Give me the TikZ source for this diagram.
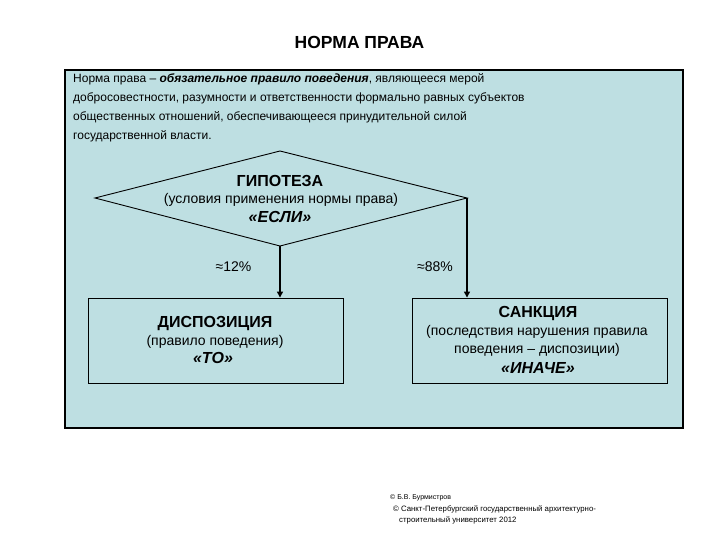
\documentclass[tikz,border=0pt]{standalone}
\usepackage{fontspec}
\setmainfont{Liberation Sans}
\usetikzlibrary{arrows.meta}
\definecolor{panel}{RGB}{190,223,226}
\tikzset{
  body/.style={anchor=west, inner sep=0pt, font=\fontsize{12}{14}\selectfont},
  ctext/.style={inner sep=0pt, font=\fontsize{14}{16}\selectfont},
  head/.style={inner sep=0pt, font=\fontsize{16}{18}\selectfont\bfseries},
  quote/.style={inner sep=0pt, font=\fontsize{16}{18}\selectfont\bfseries\itshape},
  flow/.style={draw=black, line width=1.3pt, -{Triangle[length=6pt,width=6pt]}},
  boxed/.style={draw=black, line width=0.9pt},
  small/.style={anchor=west, inner sep=0pt, font=\fontsize{7.8}{9}\selectfont}
}
\begin{document}
\begin{tikzpicture}[x=1pt,y=-1pt]
\path[use as bounding box, fill=white] (0,0) rectangle (720,540);
\node[inner sep=0pt, font=\fontsize{17.5}{19}\selectfont\bfseries] (title) at (359.5,42) {НОРМА ПРАВА};
\draw[fill=panel, draw=black, line width=1.3pt] (65,70) rectangle (683,428);
\node[body] (l1) at (73,79) {Норма права -- \textbf{\textit{обязательное правило поведения}}, являющееся мерой};
\node[body] (l2) at (73,98) {добросовестности, разумности и ответственности формально равных субъектов};
\node[body] (l3) at (73,117) {общественных отношений, обеспечивающееся принудительной силой};
\node[body] (l4) at (73,136) {государственной власти.};
% diamond
\coordinate (dt) at (280,151);
\coordinate (dl) at (95,198);
\coordinate (dr) at (467,198);
\coordinate (db) at (280,246);
\draw[boxed] (dt) -- (dr) -- (db) -- (dl) -- cycle;
\node[head] (h1) at (280,181) {ГИПОТЕЗА};
\node[ctext] (h2) at (281,200) {(условия применения нормы права)};
\node[quote] (h3) at (280,217) {«ЕСЛИ»};
% boxes
\node[boxed, minimum width=255pt, minimum height=85pt, inner sep=0pt] (disp) at (215.5,340.5) {};
\node[boxed, minimum width=255pt, minimum height=85pt, inner sep=0pt] (sanc) at (539.5,340.5) {};
\node[head] (d1) at (215,324) {ДИСПОЗИЦИЯ};
\node[ctext] (d2) at (215,342) {(правило поведения)};
\node[quote] (d3) at (213,358) {«ТО»};
\node[head] (s1) at (538,314) {САНКЦИЯ};
\node[ctext] (s2) at (537,332) {(последствия нарушения правила};
\node[ctext] (s3) at (537,350) {поведения -- диспозиции)};
\node[quote] (s4) at (538,368) {«ИНАЧЕ»};
% arrows
\draw[flow] (db) -- (disp.north -| db);
\draw[flow] (dr) -- (sanc.north -| dr);
\node[ctext] (p1) at (233.5,267) {≈12\%};
\node[ctext] (p2) at (435,267) {≈88\%};
% credits
\node[small, font=\fontsize{7}{8}\selectfont] (c1) at (390,498) {© Б.В. Бурмистров};
\node[small] (c2) at (393,509) {© Санкт-Петербургский государственный архитектурно-};
\node[small] (c3) at (399,520) {строительный университет 2012};
\end{tikzpicture}
\end{document}
